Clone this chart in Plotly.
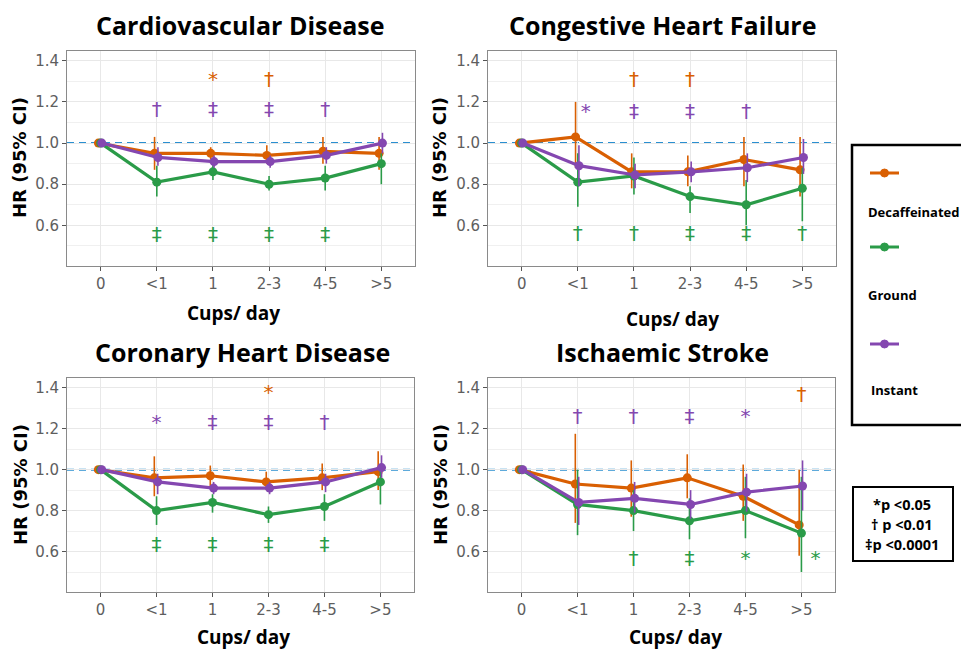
import plotly.graph_objects as go

# ---------------- data ----------------
categories = ["0", "<1", "1", "2-3", "4-5", ">5"]
series_names = ["Decaffeinated", "Ground", "Instant"]
panel_titles = ["Cardiovascular Disease", "Congestive Heart Failure",
                "Coronary Heart Disease", "Ischaemic Stroke"]
y_tick_vals = [0.6, 0.8, 1.0, 1.2, 1.4]
y_tick_text = ["0.6", "0.8", "1.0", "1.2", "1.4"]

# Cardiovascular disease
cvd_decaf_hr = [1.00, 0.95, 0.95, 0.94, 0.96, 0.95]
cvd_decaf_lo = [1.00, 0.87, 0.92, 0.90, 0.90, 0.87]
cvd_decaf_hi = [1.00, 1.03, 0.98, 0.99, 1.03, 1.03]
cvd_ground_hr = [1.00, 0.81, 0.86, 0.80, 0.83, 0.90]
cvd_ground_lo = [1.00, 0.74, 0.82, 0.77, 0.77, 0.80]
cvd_ground_hi = [1.00, 0.89, 0.91, 0.84, 0.89, 0.95]
cvd_instant_hr = [1.00, 0.93, 0.91, 0.91, 0.94, 1.00]
cvd_instant_lo = [1.00, 0.89, 0.88, 0.88, 0.90, 0.95]
cvd_instant_hi = [1.00, 0.98, 0.94, 0.94, 0.98, 1.05]

# Congestive heart failure
chf_decaf_hr = [1.00, 1.03, 0.86, 0.86, 0.92, 0.87]
chf_decaf_lo = [1.00, 0.88, 0.78, 0.79, 0.79, 0.74]
chf_decaf_hi = [1.00, 1.20, 0.95, 0.94, 1.03, 1.03]
chf_ground_hr = [1.00, 0.81, 0.84, 0.74, 0.70, 0.78]
chf_ground_lo = [1.00, 0.69, 0.75, 0.66, 0.60, 0.62]
chf_ground_hi = [1.00, 0.95, 0.93, 0.79, 0.82, 0.88]
chf_instant_hr = [1.00, 0.89, 0.845, 0.86, 0.88, 0.93]
chf_instant_lo = [1.00, 0.79, 0.78, 0.81, 0.81, 0.85]
chf_instant_hi = [1.00, 0.99, 0.90, 0.91, 0.95, 1.02]

# Coronary heart disease
chd_decaf_hr = [1.00, 0.96, 0.97, 0.94, 0.96, 0.99]
chd_decaf_lo = [1.00, 0.87, 0.92, 0.90, 0.90, 0.90]
chd_decaf_hi = [1.00, 1.065, 1.02, 0.99, 1.03, 1.09]
chd_ground_hr = [1.00, 0.80, 0.84, 0.78, 0.82, 0.94]
chd_ground_lo = [1.00, 0.73, 0.79, 0.74, 0.75, 0.83]
chd_ground_hi = [1.00, 0.87, 0.88, 0.82, 0.88, 1.02]
chd_instant_hr = [1.00, 0.94, 0.91, 0.91, 0.94, 1.01]
chd_instant_lo = [1.00, 0.88, 0.88, 0.88, 0.89, 0.96]
chd_instant_hi = [1.00, 0.98, 0.94, 0.94, 0.98, 1.07]

# Ischaemic stroke
is_decaf_hr = [1.00, 0.93, 0.91, 0.96, 0.87, 0.73]
is_decaf_lo = [1.00, 0.74, 0.77, 0.86, 0.75, 0.58]
is_decaf_hi = [1.00, 1.175, 1.045, 1.075, 1.025, 1.00]
is_ground_hr = [1.00, 0.83, 0.80, 0.75, 0.80, 0.69]
is_ground_lo = [1.00, 0.68, 0.70, 0.66, 0.665, 0.50]
is_ground_hi = [1.00, 1.00, 0.90, 0.86, 0.965, 0.965]
is_instant_hr = [1.00, 0.84, 0.86, 0.83, 0.89, 0.92]
is_instant_lo = [1.00, 0.73, 0.79, 0.76, 0.795, 0.80]
is_instant_hi = [1.00, 0.965, 0.94, 0.90, 0.98, 1.045]

# significance markers per category
cvd_decaf_sig = ["", "", "*", "†", "", ""]
cvd_ground_sig = ["", "‡", "‡", "‡", "‡", ""]
cvd_instant_sig = ["", "†", "‡", "‡", "†", ""]
chf_decaf_sig = ["", "", "†", "†", "", ""]
chf_ground_sig = ["", "†", "†", "‡", "‡", "†"]
chf_instant_sig = ["", "*", "‡", "‡", "†", ""]
chd_decaf_sig = ["", "", "", "*", "", ""]
chd_ground_sig = ["", "‡", "‡", "‡", "‡", ""]
chd_instant_sig = ["", "*", "‡", "‡", "†", ""]
is_decaf_sig = ["", "", "", "", "", "†"]
is_ground_sig = ["", "", "†", "‡", "*", "*"]
is_instant_sig = ["", "†", "†", "‡", "*", ""]

# height (HR scale) at which each row of significance markers is printed
cvd_sig_levels = [1.30, 0.55, 1.155]
chf_sig_levels = [1.30, 0.555, 1.145]
chd_sig_levels = [1.37, 0.625, 1.225]
is_sig_levels = [1.36, 0.56, 1.25]

# ---------------- styling ----------------
W, H = 961, 652
colors = ["#D95F02", "#2A9B48", "#8447B0"]
dodge = [-0.04, 0.0, 0.02]
sig_nudge = {(1, 2, 1): 0.14, (3, 1, 5): 0.25}  # (panel, series, category) -> x nudge

panels = [
    dict(hr=[cvd_decaf_hr, cvd_ground_hr, cvd_instant_hr],
         lo=[cvd_decaf_lo, cvd_ground_lo, cvd_instant_lo],
         hi=[cvd_decaf_hi, cvd_ground_hi, cvd_instant_hi],
         sig=[cvd_decaf_sig, cvd_ground_sig, cvd_instant_sig], lev=cvd_sig_levels,
         box=(67, 415, 51, 266), title=(240, 25), xt=(233, 313), yt=(20, 158)),
    dict(hr=[chf_decaf_hr, chf_ground_hr, chf_instant_hr],
         lo=[chf_decaf_lo, chf_ground_lo, chf_instant_lo],
         hi=[chf_decaf_hi, chf_ground_hi, chf_instant_hi],
         sig=[chf_decaf_sig, chf_ground_sig, chf_instant_sig], lev=chf_sig_levels,
         box=(488, 836, 51, 266), title=(662, 25), xt=(672, 319), yt=(440, 158)),
    dict(hr=[chd_decaf_hr, chd_ground_hr, chd_instant_hr],
         lo=[chd_decaf_lo, chd_ground_lo, chd_instant_lo],
         hi=[chd_decaf_hi, chd_ground_hi, chd_instant_hi],
         sig=[chd_decaf_sig, chd_ground_sig, chd_instant_sig], lev=chd_sig_levels,
         box=(67, 414, 378, 592), title=(242, 352), xt=(243, 637), yt=(20, 485)),
    dict(hr=[is_decaf_hr, is_ground_hr, is_instant_hr],
         lo=[is_decaf_lo, is_ground_lo, is_instant_lo],
         hi=[is_decaf_hi, is_ground_hi, is_instant_hi],
         sig=[is_decaf_sig, is_ground_sig, is_instant_sig], lev=is_sig_levels,
         box=(488, 835, 378, 592), title=(662, 352), xt=(675, 637), yt=(440, 485)),
]


def px(x):
    return x / W


def py(y):
    return 1 - y / H


fig = go.Figure()
layout = dict(width=W, height=H, margin=dict(l=0, r=0, t=0, b=0),
              paper_bgcolor="white", plot_bgcolor="white", showlegend=False)
annotations = []
shapes = []

TITLE_FONT = "Open Sans"
TICK_FONT = "DejaVu Sans"

for p, pan in enumerate(panels):
    sfx = "" if p == 0 else str(p + 1)
    xa, ya = "x" + sfx, "y" + sfx
    x0, x1, y0, y1 = pan["box"]
    layout["xaxis" + sfx] = dict(
        domain=[px(x0), px(x1)], anchor=ya, range=[-0.6, 5.6],
        tickmode="array", tickvals=list(range(len(categories))), ticktext=categories,
        showgrid=True, gridcolor="#E8E8E8", gridwidth=1, zeroline=False,
        showline=True, mirror=True, linecolor="#8A8A8A", linewidth=1,
        ticks="outside", ticklen=4, tickcolor="#555555",
        tickfont=dict(family=TICK_FONT, size=15, color="#5E5E5E"))
    layout["yaxis" + sfx] = dict(
        domain=[py(y1), py(y0)], anchor=xa, range=[0.4025, 1.4475],
        tickmode="array", tickvals=y_tick_vals, ticktext=y_tick_text,
        showgrid=True, gridcolor="#E8E8E8", gridwidth=1, zeroline=False,
        minor=dict(tickmode="array", tickvals=[0.5, 0.7, 0.9, 1.1, 1.3],
                   showgrid=True, gridcolor="#F0F0F0", gridwidth=1, ticks=""),
        showline=True, mirror=True, linecolor="#8A8A8A", linewidth=1,
        ticks="outside", ticklen=4, tickcolor="#555555",
        tickfont=dict(family=TICK_FONT, size=15, color="#5E5E5E"))

    shapes.append(dict(type="line", xref=xa, yref=ya, x0=-0.6, x1=5.6,
                       y0=1.0, y1=1.0, layer="below",
                       line=dict(color="#2A8FD0", width=2, dash="7px,5px")))

    for s in range(3):
        hr, lo, hi = pan["hr"][s], pan["lo"][s], pan["hi"][s]
        xs = [i + dodge[s] for i in range(len(categories))]
        fig.add_trace(go.Scatter(
            x=xs, y=hr, xaxis=xa, yaxis=ya, mode="lines+markers",
            line=dict(color=colors[s], width=3.2),
            marker=dict(color=colors[s], size=9),
            error_y=dict(type="data", symmetric=False,
                         array=[h - v for h, v in zip(hi, hr)],
                         arrayminus=[v - l for v, l in zip(hr, lo)],
                         color=colors[s], thickness=1.6, width=0),
            name=series_names[s], hoverinfo="skip"))
        sig = pan["sig"][s]
        sx, sy, st = [], [], []
        for i, lab in enumerate(sig):
            if lab:
                sx.append(i + sig_nudge.get((p, s, i), 0.0))
                sy.append(pan["lev"][s])
                st.append(lab)
        fig.add_trace(go.Scatter(
            x=sx, y=sy, xaxis=xa, yaxis=ya, mode="text", text=st,
            textposition="middle center",
            textfont=dict(family="DejaVu Sans", size=20, color=colors[s]),
            hoverinfo="skip"))

    tx, ty = pan["title"]
    annotations.append(dict(x=px(tx), y=py(ty), xref="paper", yref="paper",
                            text="<b>%s</b>" % panel_titles[p], showarrow=False,
                            xanchor="center", yanchor="middle",
                            font=dict(family=TITLE_FONT, size=25, color="black")))
    cx, cy = pan["xt"]
    annotations.append(dict(x=px(cx), y=py(cy), xref="paper", yref="paper",
                            text="<b>Cups/ day</b>", showarrow=False,
                            xanchor="center", yanchor="middle",
                            font=dict(family=TITLE_FONT, size=19, color="black")))
    hx, hy = pan["yt"]
    annotations.append(dict(x=px(hx), y=py(hy), xref="paper", yref="paper",
                            text="<b>HR (95% CI)</b>", showarrow=False, textangle=-90,
                            xanchor="center", yanchor="middle",
                            font=dict(family="DejaVu Sans", size=18, color="black")))

# ---------------- custom legend ----------------
shapes.append(dict(type="rect", xref="paper", yref="paper",
                   x0=px(852), x1=px(975), y0=py(425), y1=py(145),
                   line=dict(color="black", width=2.5)))
legend_line_y = [173, 247, 344]
legend_text_y = [212, 295, 390]
legend_text_x = [866, 866, 869]
for s in range(3):
    ly = legend_line_y[s]
    shapes.append(dict(type="line", xref="paper", yref="paper",
                       x0=px(870), x1=px(899), y0=py(ly), y1=py(ly),
                       line=dict(color=colors[s], width=3)))
    shapes.append(dict(type="circle", xref="paper", yref="paper",
                       x0=px(880.5), x1=px(888.5), y0=py(ly + 4), y1=py(ly - 4),
                       line=dict(color=colors[s], width=1), fillcolor=colors[s]))
    annotations.append(dict(x=px(legend_text_x[s]), y=py(legend_text_y[s]),
                            xref="paper", yref="paper", text="<b>%s</b>" % series_names[s],
                            showarrow=False, xanchor="left", yanchor="middle",
                            font=dict(family="Open Sans", size=13, color="black")))

# ---------------- p-value key ----------------
shapes.append(dict(type="rect", xref="paper", yref="paper",
                   x0=px(853), x1=px(953), y0=py(561), y1=py(487),
                   line=dict(color="black", width=2)))
pkey_text = ["*p <0.05", "† p <0.01", "‡p <0.0001"]
pkey_y = [504, 524, 544]
for t, yy in zip(pkey_text, pkey_y):
    annotations.append(dict(x=px(902), y=py(yy), xref="paper", yref="paper",
                            text="<b>%s</b>" % t, showarrow=False,
                            xanchor="center", yanchor="middle",
                            font=dict(family="Open Sans", size=14.5, color="black")))

layout["annotations"] = annotations
layout["shapes"] = shapes
fig.update_layout(**layout)
fig.write_html("out.html")
